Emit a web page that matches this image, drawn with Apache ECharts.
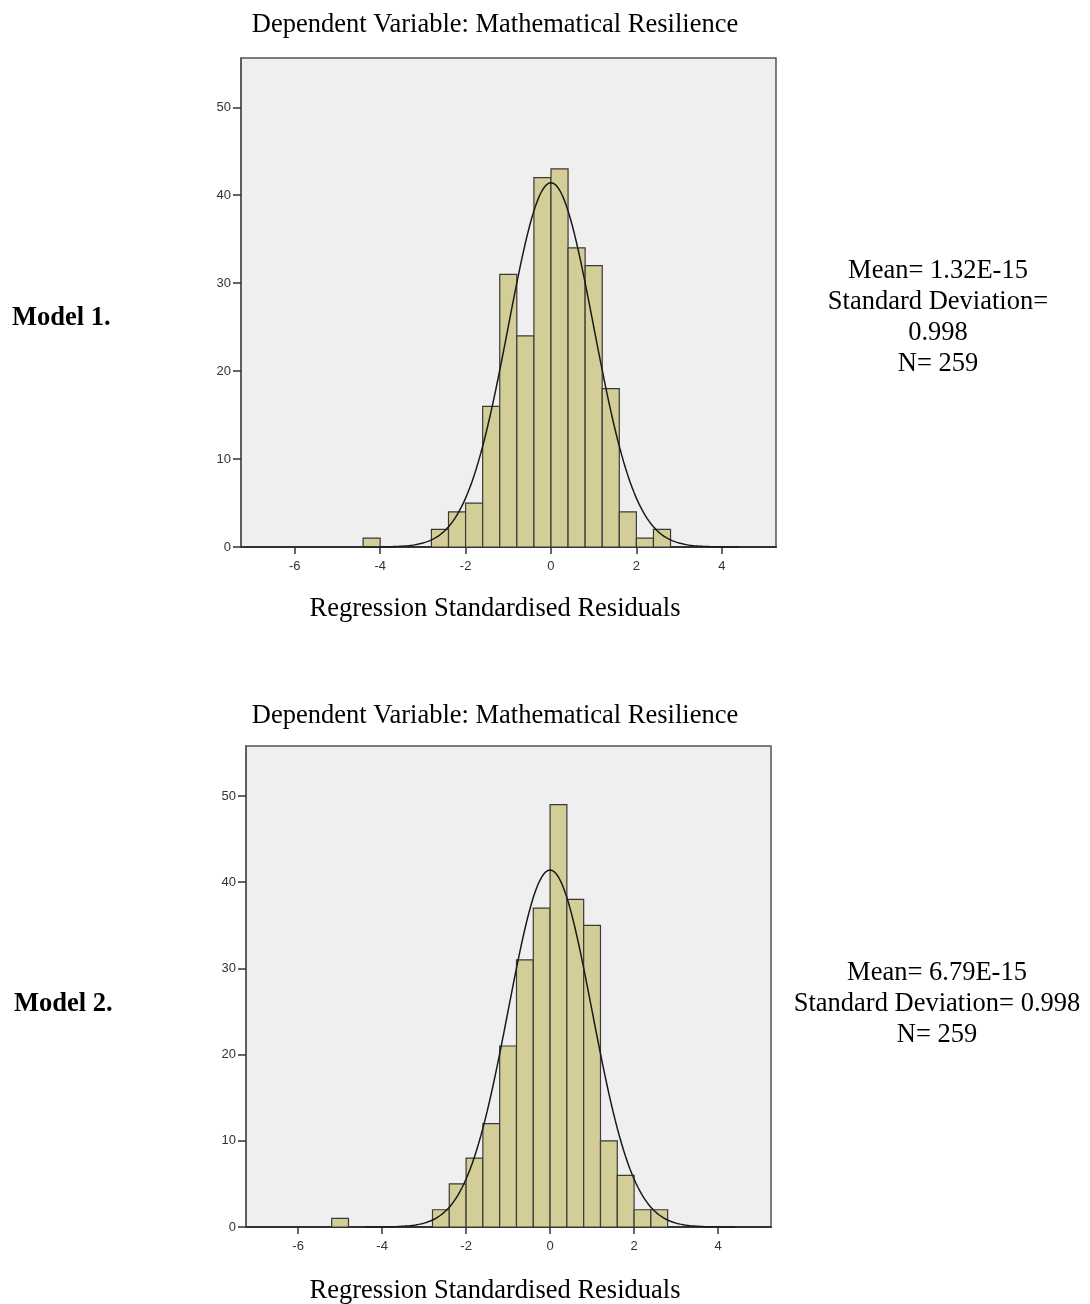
<!DOCTYPE html>
<html>
<head>
<meta charset="utf-8">
<title>Regression Standardised Residuals</title>
<script src="https://cdn.jsdelivr.net/npm/echarts@6/dist/echarts.min.js"></script>
<style>
  html, body { margin: 0; padding: 0; background: #fff; }
  #chart { width: 1090px; height: 1304px; }
</style>
</head>
<body>
<div id="chart"></div>
<script>
// histogram bins (left edge of each bin) and counts
const binWidth = 0.4
const model1BinStart = [-4.4, -2.8, -2.4, -2.0, -1.6, -1.2, -0.8, -0.4, 0.0, 0.4, 0.8, 1.2, 1.6, 2.0, 2.4]
const model1Counts = [1, 2, 4, 5, 16, 31, 24, 42, 43, 34, 32, 18, 4, 1, 2]
const model2BinStart = [-5.2, -2.8, -2.4, -2.0, -1.6, -1.2, -0.8, -0.4, 0.0, 0.4, 0.8, 1.2, 1.6, 2.0, 2.4]
const model2Counts = [1, 2, 5, 8, 12, 21, 31, 37, 49, 38, 35, 10, 6, 2, 2]

// summary statistics printed next to each chart
const model1Stats = { mean: 1.32e-15, sd: 0.998, n: 259 }
const model2Stats = { mean: 6.79e-15, sd: 0.998, n: 259 }
const model1StatLines = ['Mean= 1.32E-15', 'Standard Deviation=', '0.998', 'N= 259']
const model2StatLines = ['Mean= 6.79E-15', 'Standard Deviation= 0.998', 'N= 259']

const xTicks = [-6, -4, -2, 0, 2, 4]
const yTicks = [0, 10, 20, 30, 40, 50]

const titleText = 'Dependent Variable: Mathematical Resilience'
const xAxisName = 'Regression Standardised Residuals'

const chart = echarts.init(document.getElementById('chart'))

// normal curve fitted with the stated mean / SD, scaled to counts
function normalCurve(stats) {
  const pts = []
  for (let x = -4.4; x <= 4.4001; x += 0.05) {
    const z = (x - stats.mean) / stats.sd
    const y = stats.n * binWidth / (stats.sd * Math.sqrt(2 * Math.PI)) * Math.exp(-0.5 * z * z)
    pts.push([+x.toFixed(2), y])
  }
  return pts
}

function renderBin(params, api) {
  const x0 = api.value(0)
  const count = api.value(1)
  const topLeft = api.coord([x0, count])
  const bottomRight = api.coord([x0 + binWidth, 0])
  return {
    type: 'rect',
    shape: {
      x: topLeft[0],
      y: topLeft[1],
      width: bottomRight[0] - topLeft[0],
      height: bottomRight[1] - topLeft[1]
    },
    style: {
      fill: '#d3ce97',
      stroke: '#3a3a3a',
      lineWidth: 1.2
    }
  }
}

const serif = '"Liberation Serif", "Times New Roman", serif'
const sans = '"Liberation Sans", Arial, sans-serif'

function xAxisFor(gridIndex, min, max) {
  return {
    type: 'value',
    gridIndex: gridIndex,
    min: min,
    max: max,
    splitLine: { show: false },
    axisLine: { show: true, onZero: false, lineStyle: { color: '#333', width: 2 } },
    axisTick: { show: true, customValues: xTicks, length: 7, lineStyle: { color: '#333', width: 1.5 } },
    axisLabel: { customValues: xTicks, margin: 13, color: '#333', fontSize: 13, fontFamily: sans }
  }
}

function yAxisFor(gridIndex, max) {
  return {
    type: 'value',
    gridIndex: gridIndex,
    min: 0,
    max: max,
    splitLine: { show: false },
    axisLine: { show: true, onZero: false, lineStyle: { color: '#555', width: 1.5 } },
    axisTick: { show: true, customValues: yTicks, length: 8, lineStyle: { color: '#333', width: 1.5 } },
    axisLabel: { customValues: yTicks, margin: 10, color: '#333', fontSize: 13, fontFamily: sans }
  }
}

function serifText(x, y, text, align, bold) {
  return {
    type: 'text',
    x: x,
    y: y,
    style: {
      text: text,
      fill: '#000',
      font: (bold ? 'bold ' : '') + '26.5px ' + serif,
      align: align,
      verticalAlign: 'middle'
    }
  }
}

const graphics = [
  serifText(495, 25, titleText, 'center'),
  serifText(495, 609, xAxisName, 'center'),
  serifText(12, 318, 'Model 1.', 'left', true),
  serifText(495, 716, titleText, 'center'),
  serifText(495, 1291, xAxisName, 'center'),
  serifText(14, 1004, 'Model 2.', 'left', true)
]
model1StatLines.forEach((line, i) => graphics.push(serifText(938, 271 + i * 31, line, 'center')))
model2StatLines.forEach((line, i) => graphics.push(serifText(937, 973 + i * 31, line, 'center')))

const option = {
  animation: false,
  backgroundColor: '#fff',
  grid: [
    { left: 241, top: 58, width: 535, height: 489, show: true, backgroundColor: '#efefef', borderColor: '#555', borderWidth: 1.5 },
    { left: 246, top: 746, width: 525, height: 481, show: true, backgroundColor: '#efefef', borderColor: '#555', borderWidth: 1.5 }
  ],
  xAxis: [
    xAxisFor(0, -7.26, 5.27),
    xAxisFor(1, -7.24, 5.26)
  ],
  yAxis: [
    yAxisFor(0, 55.6),
    yAxisFor(1, 55.8)
  ],
  series: [
    {
      name: 'Model 1 histogram',
      type: 'custom',
      xAxisIndex: 0,
      yAxisIndex: 0,
      renderItem: renderBin,
      encode: { x: 0, y: 1 },
      data: model1BinStart.map((x, i) => [x, model1Counts[i]]),
      z: 2
    },
    {
      name: 'Model 1 normal',
      type: 'line',
      xAxisIndex: 0,
      yAxisIndex: 0,
      showSymbol: false,
      smooth: false,
      lineStyle: { color: '#1a1a1a', width: 1.5 },
      data: normalCurve(model1Stats),
      z: 3
    },
    {
      name: 'Model 2 histogram',
      type: 'custom',
      xAxisIndex: 1,
      yAxisIndex: 1,
      renderItem: renderBin,
      encode: { x: 0, y: 1 },
      data: model2BinStart.map((x, i) => [x, model2Counts[i]]),
      z: 2
    },
    {
      name: 'Model 2 normal',
      type: 'line',
      xAxisIndex: 1,
      yAxisIndex: 1,
      showSymbol: false,
      smooth: false,
      lineStyle: { color: '#1a1a1a', width: 1.5 },
      data: normalCurve(model2Stats),
      z: 3
    }
  ],
  graphic: graphics
}

chart.setOption(option)
</script>
</body>
</html>
